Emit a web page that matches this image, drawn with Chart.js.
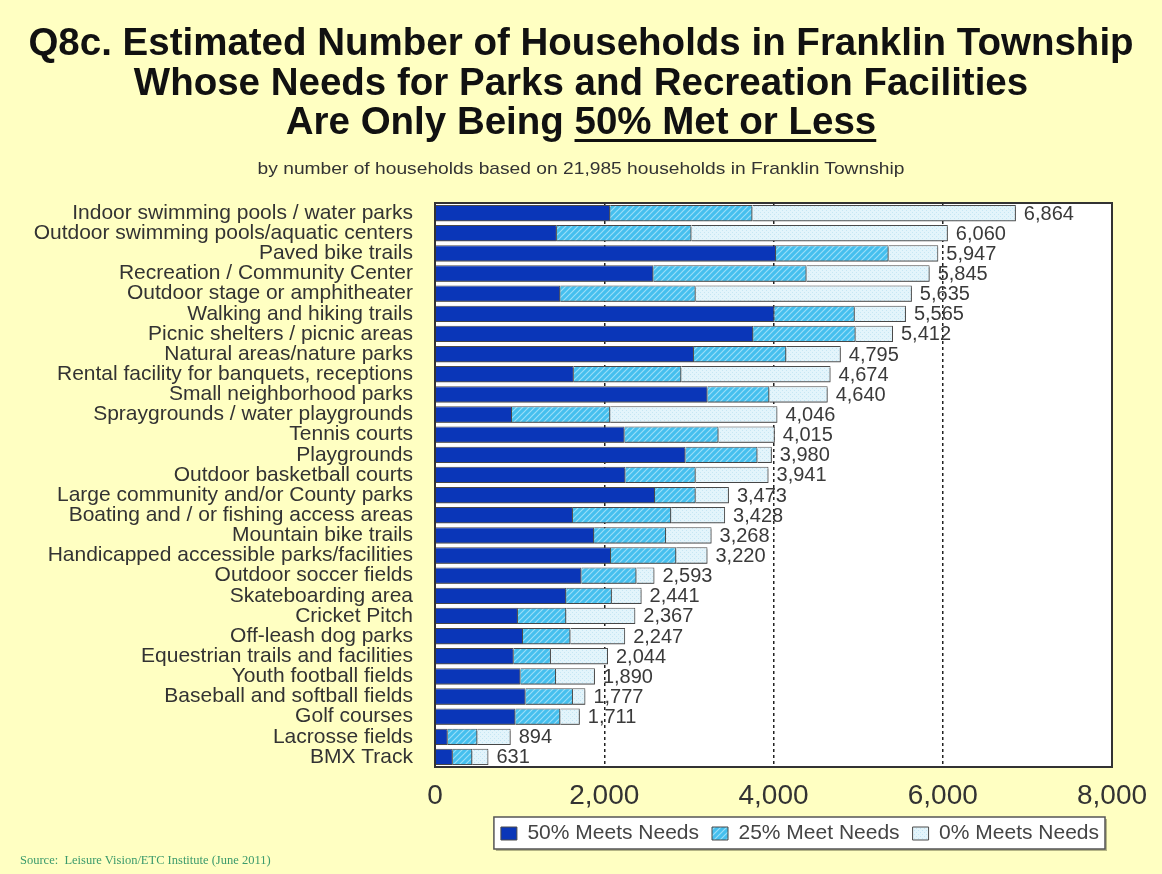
<!DOCTYPE html>
<html>
<head>
<meta charset="utf-8">
<title>Q8c. Estimated Number of Households in Franklin Township</title>
<script src="https://cdn.jsdelivr.net/npm/chart.js@4.4.1/dist/chart.umd.min.js"></script>
<style>
    html, body {
        margin: 0;
        padding: 0;
        background: #FFFFC2;
        font-family: 'Liberation Sans', Arial, sans-serif;
    }
    #page {
        position: relative;
        width: 1162px;
        height: 874px;
        overflow: hidden;
    }
    #chartWrap {
        position: absolute;
        left: 0;
        top: 0;
        width: 1162px;
        height: 874px;
    }
    .title {
        position: absolute;
        left: 0;
        top: 22px;
        width: 1162px;
        text-align: center;
        font-weight: bold;
        font-size: 38.5px;
        line-height: 39.5px;
        color: #111;
    }
    .title u {
        text-decoration-thickness: 3px;
        text-underline-offset: 5px;
    }
    .subtitle {
        position: absolute;
        left: 0;
        top: 159px;
        width: 1162px;
        text-align: center;
        font-size: 17px;
        color: #333;
        transform: scaleX(1.13);
        transform-origin: 581px 0;
    }
    .source {
        position: absolute;
        left: 20px;
        top: 853px;
        font-family: 'Liberation Serif', 'Times New Roman', serif;
        font-size: 12.5px;
        color: #3b9a6b;
    }
</style>
</head>
<body>
<div id="page">
    <div id="chartWrap"><canvas id="needsChart" width="1162" height="874"></canvas></div>
    <div class="title">Q8c. Estimated Number of Households in Franklin Township<br>Whose Needs for Parks and Recreation Facilities<br>Are Only Being <u>50% Met or Less</u></div>
    <div class="subtitle">by number of households based on 21,985 households in Franklin Township</div>
    <div class="source">Source:&nbsp; Leisure Vision/ETC Institute (June 2011)</div>
</div>

<script>
// Facilities, ordered by total households with needs 50% met or less
const categories = [
    'Indoor swimming pools / water parks',
    'Outdoor swimming pools/aquatic centers',
    'Paved bike trails',
    'Recreation / Community Center',
    'Outdoor stage or amphitheater',
    'Walking and hiking trails',
    'Picnic shelters / picnic areas',
    'Natural areas/nature parks',
    'Rental facility for banquets, receptions',
    'Small neighborhood parks',
    'Spraygrounds / water playgrounds',
    'Tennis courts',
    'Playgrounds',
    'Outdoor basketball courts',
    'Large community and/or County parks',
    'Boating and / or fishing access areas',
    'Mountain bike trails',
    'Handicapped accessible parks/facilities',
    'Outdoor soccer fields',
    'Skateboarding area',
    'Cricket Pitch',
    'Off-leash dog parks',
    'Equestrian trails and facilities',
    'Youth football fields',
    'Baseball and softball fields',
    'Golf courses',
    'Lacrosse fields',
    'BMX Track'
];

// Households per level of need met
const meets50 = [2070, 1440, 4030, 2580, 1480, 4010, 3760, 3060, 1640, 3220, 910, 2240, 2960, 2250,
                 2600, 1630, 1880, 2080, 1730, 1550, 980, 1040, 930, 1010, 1070, 950, 150, 210];
const meets25 = [1680, 1590, 1330, 1810, 1600, 950, 1210, 1090, 1270, 730, 1160, 1110, 850, 830,
                 480, 1160, 850, 770, 650, 540, 570, 560, 440, 420, 560, 530, 350, 230];
const meets0  = [3114, 3030, 587, 1455, 2555, 605, 442, 645, 1764, 690, 1976, 665, 170, 861,
                 393, 638, 538, 370, 213, 351, 817, 647, 674, 460, 147, 231, 394, 191];

const seriesNames = ['50% Meets Needs', '25% Meet Needs', '0% Meets Needs'];
const tickValues = [0, 2000, 4000, 6000, 8000];

// Small tiles used as bar fills
function makeHatch() {
    const c = document.createElement('canvas');
    c.width = 6;
    c.height = 6;
    const g = c.getContext('2d');
    g.fillStyle = '#45bfee';
    g.fillRect(0, 0, 6, 6);
    g.strokeStyle = '#9adef8';
    g.lineWidth = 1.2;
    g.beginPath();
    g.moveTo(-1, 7); g.lineTo(7, -1);
    g.moveTo(-1, 1); g.lineTo(1, -1);
    g.moveTo(5, 7); g.lineTo(7, 5);
    g.stroke();
    return g.createPattern(c, 'repeat');
}

function makeDots() {
    const c = document.createElement('canvas');
    c.width = 4;
    c.height = 4;
    const g = c.getContext('2d');
    g.fillStyle = '#e3f4fb';
    g.fillRect(0, 0, 4, 4);
    g.fillStyle = '#c4e6f4';
    g.fillRect(0, 0, 1, 1);
    g.fillRect(2, 2, 1, 1);
    return g.createPattern(c, 'repeat');
}

// White plot area and the boxed legend
const backdropPlugin = {
    id: 'backdrop',
    beforeDraw(chart) {
        const { ctx, chartArea } = chart;
        ctx.save();
        ctx.fillStyle = '#ffffff';
        ctx.fillRect(chartArea.left, chartArea.top, chartArea.right - chartArea.left, chartArea.bottom - chartArea.top);

        const boxes = chart.legend && chart.legend.legendHitBoxes;
        if (boxes && boxes.length) {
            const first = boxes[0];
            const last = boxes[boxes.length - 1];
            const x1 = first.left - 7;
            const x2 = last.left + last.width + 6;
            const y1 = first.top - 6;
            const y2 = first.top + first.height + 5;
            ctx.fillStyle = 'rgba(90,90,60,0.45)';
            ctx.fillRect(x1 + 2, y1 + 2, x2 - x1, y2 - y1);
            ctx.fillStyle = '#ffffff';
            ctx.fillRect(x1, y1, x2 - x1, y2 - y1);
            ctx.strokeStyle = '#555';
            ctx.lineWidth = 1.5;
            ctx.strokeRect(x1, y1, x2 - x1, y2 - y1);
        }
        ctx.restore();
    },
    afterDraw(chart) {
        const { ctx, chartArea } = chart;
        ctx.save();
        ctx.strokeStyle = '#333';
        ctx.lineWidth = 2;
        ctx.strokeRect(chartArea.left, chartArea.top, chartArea.right - chartArea.left, chartArea.bottom - chartArea.top);
        ctx.restore();
    }
};

// Gray drop shadow under each bar
const shadowPlugin = {
    id: 'barShadow',
    beforeDatasetsDraw(chart) {
        const ctx = chart.ctx;
        ctx.save();
        ctx.shadowColor = 'rgba(70,70,70,0.75)';
        ctx.shadowOffsetX = 0;
        ctx.shadowOffsetY = 2;
        ctx.shadowBlur = 0;
    },
    afterDatasetsDraw(chart) {
        chart.ctx.restore();
    }
};

// Total at the end of each bar
const totalsPlugin = {
    id: 'totals',
    afterDatasetsDraw(chart) {
        const { ctx } = chart;
        const lastMeta = chart.getDatasetMeta(chart.data.datasets.length - 1);
        ctx.save();
        ctx.font = '20px "Liberation Sans", Arial, sans-serif';
        ctx.fillStyle = '#3a3a3a';
        ctx.textAlign = 'left';
        ctx.textBaseline = 'middle';
        categories.forEach((cat, i) => {
            const total = meets50[i] + meets25[i] + meets0[i];
            const bar = lastMeta.data[i];
            ctx.fillText(total.toLocaleString('en-US'), bar.x + 8, bar.y + 1);
        });
        ctx.restore();
    }
};

// Initialize chart
function initChart() {
    const ctx = document.getElementById('needsChart');
    const fills = ['#0a36b8', makeHatch(), makeDots()];
    const series = [meets50, meets25, meets0];

    new Chart(ctx, {
        type: 'bar',
        data: {
            labels: categories,
            datasets: series.map((values, i) => ({
                label: seriesNames[i],
                data: values,
                backgroundColor: fills[i],
                borderColor: '#4a4a4a',
                borderWidth: 1,
                barPercentage: 0.9,
                categoryPercentage: 0.9
            }))
        },
        options: {
            indexAxis: 'y',
            responsive: false,
            animation: false,
            devicePixelRatio: 1,
            layout: {
                padding: { top: 203, right: 50, bottom: 20, left: 0 }
            },
            scales: {
                x: {
                    stacked: true,
                    min: 0,
                    max: 8000,
                    afterBuildTicks: scale => {
                        scale.ticks = tickValues.map(v => ({ value: v }));
                    },
                    afterFit: scale => {
                        scale.height = 43;
                    },
                    grid: {
                        drawTicks: false,
                        lineWidth: 1.5,
                        color: c => (c.tick && (c.tick.value === 0 || c.tick.value === 8000)) ? 'rgba(0,0,0,0)' : '#222'
                    },
                    border: { display: false, dash: [3, 3] },
                    ticks: {
                        padding: 12,
                        color: '#333',
                        font: { family: '"Liberation Sans", Arial, sans-serif', size: 28 },
                        callback: value => value.toLocaleString('en-US')
                    }
                },
                y: {
                    stacked: true,
                    afterFit: scale => {
                        scale.width = 435;
                    },
                    grid: { display: false },
                    border: { display: false },
                    ticks: {
                        autoSkip: false,
                        padding: 14,
                        color: '#333',
                        font: { family: '"Liberation Sans", Arial, sans-serif', size: 21 }
                    }
                }
            },
            plugins: {
                legend: {
                    position: 'bottom',
                    align: 'end',
                    fullSize: false,
                    labels: {
                        boxWidth: 16,
                        boxHeight: 13,
                        padding: 13,
                        color: '#444',
                        font: { family: '"Liberation Sans", Arial, sans-serif', size: 21 }
                    }
                },
                tooltip: { enabled: false }
            }
        },
        plugins: [backdropPlugin, shadowPlugin, totalsPlugin]
    });
}

document.addEventListener('DOMContentLoaded', initChart);
</script>
</body>
</html>
